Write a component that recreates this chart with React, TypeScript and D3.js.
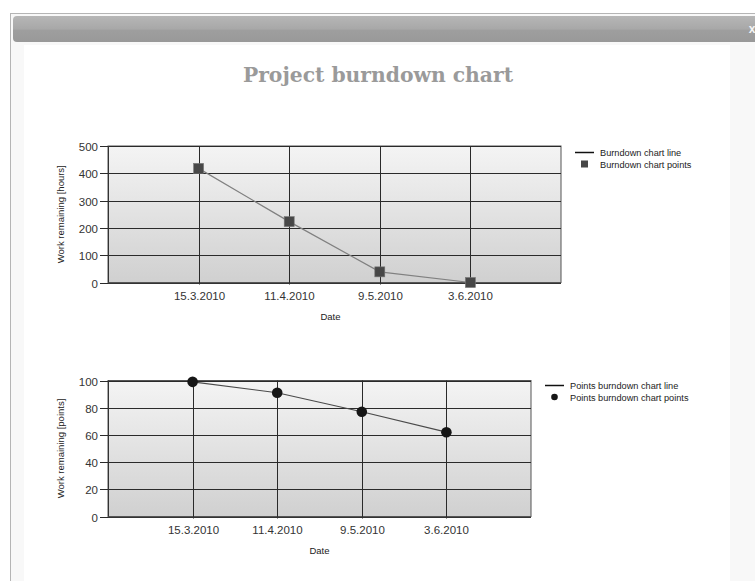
import React, { useEffect, useRef } from "react";
import * as d3 from "d3";

const dates = ["15.3.2010", "11.4.2010", "9.5.2010", "3.6.2010"];
const hoursRemaining = [418, 223, 39, 0];
const pointsRemaining = [99, 91, 77, 62];
const hoursTicks = [0, 100, 200, 300, 400, 500];
const pointsTicks = [0, 20, 40, 60, 80, 100];

type ChartCfg = {
  left: number; right: number; top: number; bottom: number;
  yMax: number; ticks: number[]; values: number[];
  yTitle: string; legendX: number; legendY: number; legendLine: string; legendPoints: string;
  marker: "square" | "circle"; lineColor: string; markerColor: string; dateDx: number;
};

export default function App() {
  const ref = useRef<SVGSVGElement>(null);

  useEffect(() => {
    const svg = d3.select(ref.current);
    svg.selectAll("*").remove();
    const W = 755, H = 581;

    const defs = svg.append("defs");
    const bar = defs.append("linearGradient").attr("id", "bar").attr("x1", 0).attr("x2", 0).attr("y1", 0).attr("y2", 1);
    bar.append("stop").attr("offset", "0%").attr("stop-color", "#b6b6b6");
    bar.append("stop").attr("offset", "50%").attr("stop-color", "#a8a8a8");
    bar.append("stop").attr("offset", "55%").attr("stop-color", "#9e9e9e");
    bar.append("stop").attr("offset", "100%").attr("stop-color", "#999999");
    const plotG = defs.append("linearGradient").attr("id", "plotbg").attr("x1", 0).attr("x2", 0).attr("y1", 0).attr("y2", 1);
    plotG.append("stop").attr("offset", "0%").attr("stop-color", "#f4f4f4");
    plotG.append("stop").attr("offset", "100%").attr("stop-color", "#d0d0d0");

    // window frame
    svg.append("rect").attr("x", 0).attr("y", 0).attr("width", W).attr("height", H).attr("fill", "#ffffff");
    svg.append("rect").attr("x", 10.5).attr("y", 13.5).attr("width", W).attr("height", H).attr("fill", "#f8f8f8").attr("stroke", "#b5b5b5");
    svg.append("rect").attr("x", 24).attr("y", 45).attr("width", 706).attr("height", H - 45).attr("fill", "#ffffff");
    svg.append("rect").attr("x", 13).attr("y", 16).attr("width", W).attr("height", 26).attr("rx", 4).attr("fill", "url(#bar)");
    svg.append("text").attr("x", 752).attr("y", 33).attr("text-anchor", "middle")
      .attr("font-family", "Liberation Sans, Arial, sans-serif").attr("font-weight", "bold").attr("font-size", 12)
      .attr("fill", "#f4f4f4").text("x");

    // title
    svg.append("text").attr("x", 378).attr("y", 82).attr("text-anchor", "middle")
      .attr("font-family", "DejaVu Serif, Georgia, serif").attr("font-weight", "bold").attr("font-size", 20.3)
      .attr("fill", "#9a9a9a").text("Project burndown chart");

    const charts: ChartCfg[] = [
      { left: 108, right: 561, top: 146, bottom: 282.5, yMax: 500, ticks: hoursTicks, values: hoursRemaining,
        yTitle: "Work remaining [hours]", legendX: 575, legendY: 152.5, legendLine: "Burndown chart line", legendPoints: "Burndown chart points",
        marker: "square", lineColor: "#808080", markerColor: "#474747", dateDx: -4 },
      { left: 108, right: 531, top: 380.5, bottom: 516.5, yMax: 100, ticks: pointsTicks, values: pointsRemaining,
        yTitle: "Work remaining [points]", legendX: 545, legendY: 385.5, legendLine: "Points burndown chart line", legendPoints: "Points burndown chart points",
        marker: "circle", lineColor: "#4a4a4a", markerColor: "#161616", dateDx: 0 },
    ];

    const font = "Liberation Sans, Arial, sans-serif";

    charts.forEach((c) => {
      const g = svg.append("g");
      const x = d3.scaleLinear().domain([0, dates.length + 1]).range([c.left, c.right]);
      const y = d3.scaleLinear().domain([0, c.yMax]).range([c.bottom, c.top]);

      g.append("rect").attr("x", c.left).attr("y", c.top).attr("width", c.right - c.left).attr("height", c.bottom - c.top)
        .attr("fill", "url(#plotbg)").attr("stroke", "#555").attr("stroke-width", 1);

      // horizontal gridlines + ticks
      c.ticks.forEach((t) => {
        const yy = Math.round(y(t)) + 0.5;
        g.append("line").attr("x1", c.left - 8).attr("x2", c.right).attr("y1", yy).attr("y2", yy)
          .attr("stroke", "#2a2a2a").attr("stroke-width", 1);
        g.append("text").attr("x", c.left - 10).attr("y", yy + 4).attr("text-anchor", "end")
          .attr("font-family", font).attr("font-size", 11.5).attr("fill", "#333").text(String(t));
      });
      // vertical gridlines + labels
      dates.forEach((d, i) => {
        const xx = Math.round(x(i + 1)) + 0.5;
        g.append("line").attr("x1", xx).attr("x2", xx).attr("y1", c.top).attr("y2", c.bottom + 2)
          .attr("stroke", "#2a2a2a").attr("stroke-width", 1);
        g.append("text").attr("x", xx).attr("y", c.bottom + 17).attr("text-anchor", "middle")
          .attr("font-family", font).attr("font-size", 11.5).attr("fill", "#333").text(d);
      });
      // axis lines
      g.append("line").attr("x1", c.left + 0.5).attr("x2", c.left + 0.5).attr("y1", c.top).attr("y2", c.bottom)
        .attr("stroke", "#333");
      g.append("line").attr("x1", c.left).attr("x2", c.right).attr("y1", Math.round(c.bottom) + 0.5).attr("y2", Math.round(c.bottom) + 0.5)
        .attr("stroke", "#333");

      // titles
      g.append("text").attr("x", (c.left + c.right) / 2 + c.dateDx).attr("y", c.bottom + 37).attr("text-anchor", "middle")
        .attr("font-family", font).attr("font-size", 9.5).attr("fill", "#222").text("Date");
      g.append("text").attr("transform", `translate(${64},${(c.top + c.bottom) / 2}) rotate(-90)`).attr("text-anchor", "middle")
        .attr("font-family", font).attr("font-size", 9.5).attr("fill", "#222").text(c.yTitle);

      // series line
      const line = d3.line<number>().x((_, i) => x(i + 1)).y((v) => y(v));
      g.append("path").attr("d", line(c.values)).attr("fill", "none").attr("stroke", c.lineColor).attr("stroke-width", 1.2);

      // markers
      c.values.forEach((v, i) => {
        if (c.marker === "square") {
          g.append("rect").attr("x", x(i + 1) - 5).attr("y", y(v) - 5).attr("width", 10).attr("height", 10)
            .attr("fill", c.markerColor).attr("stroke", "#777").attr("stroke-width", 0.6);
        } else {
          g.append("circle").attr("cx", x(i + 1)).attr("cy", y(v)).attr("r", 5.3).attr("fill", c.markerColor);
        }
      });

      // legend
      const ly = c.legendY;
      g.append("line").attr("x1", c.legendX).attr("x2", c.legendX + 19).attr("y1", ly).attr("y2", ly)
        .attr("stroke", "#111").attr("stroke-width", 1.5);
      g.append("text").attr("x", c.legendX + 25).attr("y", ly + 3.5).attr("font-family", font).attr("font-size", 9.2)
        .attr("fill", "#222").text(c.legendLine);
      const my = ly + 11.5;
      if (c.marker === "square") {
        g.append("rect").attr("x", c.legendX + 9.5 - 3.5).attr("y", my - 3.5).attr("width", 7).attr("height", 7).attr("fill", "#474747");
      } else {
        g.append("circle").attr("cx", c.legendX + 9.5).attr("cy", my).attr("r", 3.3).attr("fill", "#161616");
      }
      g.append("text").attr("x", c.legendX + 25).attr("y", my + 3.5).attr("font-family", font).attr("font-size", 9.2)
        .attr("fill", "#222").text(c.legendPoints);
    });
  }, []);

  return (
    <svg ref={ref} width={755} height={581} style={{ position: "absolute", left: 0, top: 0, display: "block" }} />
  );
}
